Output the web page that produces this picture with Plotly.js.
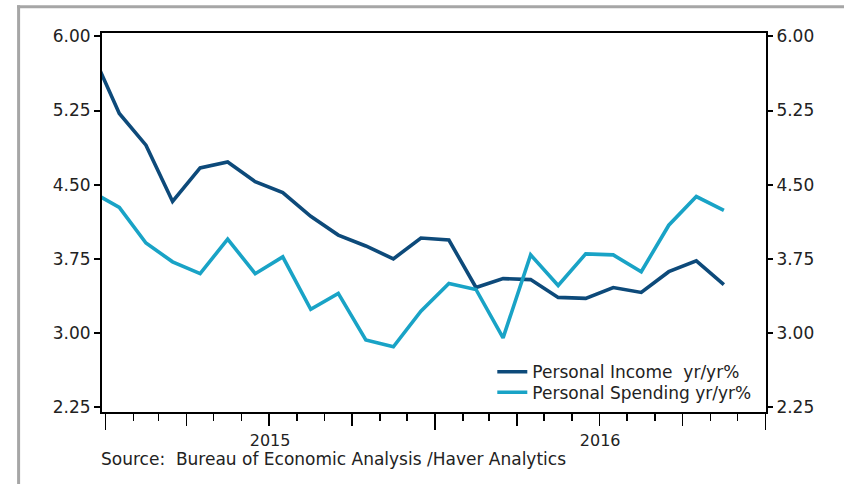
<!DOCTYPE html>
<html>
<head>
<meta charset="utf-8">
<script src="https://cdn.plot.ly/plotly-3.0.1.min.js"></script>
<style>html,body{margin:0;padding:0;background:#fff;}#chart{width:844px;height:484px;}</style>
</head>
<body>
<div id="chart"></div>
<script>
// ---- data (monthly, yr/yr %) ----
const months = ['2014-12','2015-01','2015-02','2015-03','2015-04','2015-05','2015-06','2015-07','2015-08','2015-09','2015-10','2015-11','2015-12',
                '2016-01','2016-02','2016-03','2016-04','2016-05','2016-06','2016-07','2016-08','2016-09','2016-10','2016-11'];
const incomeYoY = [5.85, 5.22, 4.90, 4.33, 4.67, 4.73, 4.53, 4.42, 4.18, 3.99, 3.88, 3.75, 3.96,
                   3.94, 3.46, 3.55, 3.54, 3.36, 3.35, 3.46, 3.41, 3.62, 3.73, 3.49];
const spendingYoY = [4.43, 4.27, 3.91, 3.72, 3.60, 3.95, 3.60, 3.77, 3.24, 3.40, 2.93, 2.86, 3.22,
                     3.50, 3.44, 2.95, 3.79, 3.48, 3.80, 3.79, 3.62, 4.09, 4.38, 4.24];
const incomeName = 'Personal Income\u00a0 yr/yr%';
const spendingName = 'Personal Spending yr/yr%';
const sourceText = 'Source:  Bureau of Economic Analysis /Haver Analytics';
const yTick0 = 2.25, yDtick = 0.75;

// ---- layout geometry ----
const W = 844, H = 484;
const L = 101.7, R = 765.7, T = 33.3, B = 412;
const px2x = p => (p - L) / (R - L);
const px2y = p => (B - p) / (B - T);
const FONT = 'DejaVu Sans, sans-serif';
const TXT = '#222222';
const xRange = ['2014-12-28 08:00', '2017-01-01 16:00'];
const yRange = [2.201, 6.034];

const traces = [
  {x: months, y: incomeYoY, name: incomeName, type: 'scatter', mode: 'lines',
   xperiod: 'M1', xperiodalignment: 'middle',
   line: {color: '#0d4a7a', width: 3.6}, legend: 'legend', hoverinfo: 'skip'},
  {x: months, y: spendingYoY, name: spendingName, type: 'scatter', mode: 'lines',
   xperiod: 'M1', xperiodalignment: 'middle', xaxis: 'x2', yaxis: 'y2',
   line: {color: '#19a3c6', width: 3.6}, legend: 'legend2', hoverinfo: 'skip'}
];

const layout = {
  width: W, height: H,
  margin: {l: L, r: W - R, t: T, b: H - B, pad: 0},
  paper_bgcolor: '#ffffff', plot_bgcolor: '#ffffff',
  font: {family: FONT, size: 17, color: TXT},
  showlegend: true,
  xaxis: {
    type: 'date', range: xRange, fixedrange: true,
    tick0: '2015-01-01', dtick: 'M3', ticks: 'outside', ticklen: 12, tickwidth: 1.5, tickcolor: '#000',
    showticklabels: false, showgrid: false, zeroline: false,
    showline: true, linewidth: 2, linecolor: '#000', mirror: true,
    minor: {tick0: '2015-01-01', dtick: 'M1', ticks: 'outside', ticklen: 7, tickwidth: 1.5, tickcolor: '#000', showgrid: false}
  },
  xaxis2: {
    type: 'date', range: xRange, fixedrange: true, overlaying: 'x', anchor: 'y', side: 'bottom',
    tick0: '2015-01-01', dtick: 'M12', ticks: 'outside', ticklen: 17, tickwidth: 1.5, tickcolor: '#000',
    ticklabelmode: 'period', tickformat: '%Y', ticklabelstandoff: -3,
    tickfont: {family: FONT, size: 16, color: TXT},
    showgrid: false, zeroline: false, showline: false
  },
  yaxis: {
    range: yRange, fixedrange: true, side: 'left',
    tick0: yTick0, dtick: yDtick, tickformat: '.2f',
    ticks: 'outside', ticklen: 6, tickwidth: 2, tickcolor: '#000',
    tickfont: {family: FONT, size: 17, color: TXT},
    showgrid: false, zeroline: false,
    showline: true, linewidth: 2, linecolor: '#000', mirror: true
  },
  yaxis2: {
    range: yRange, fixedrange: true, overlaying: 'y', side: 'right', anchor: 'x',
    tick0: yTick0, dtick: yDtick, tickformat: '.2f',
    ticks: 'outside', ticklen: 6, tickwidth: 2, tickcolor: '#000',
    tickfont: {family: FONT, size: 17, color: TXT},
    showgrid: false, zeroline: false, showline: false
  },
  legend: {x: px2x(492), y: px2y(372.3), xanchor: 'left', yanchor: 'middle',
           bgcolor: 'rgba(0,0,0,0)', borderwidth: 0, font: {family: FONT, size: 17, color: TXT}},
  legend2: {x: px2x(492), y: px2y(392.7), xanchor: 'left', yanchor: 'middle',
            bgcolor: 'rgba(0,0,0,0)', borderwidth: 0, font: {family: FONT, size: 17, color: TXT}},
  annotations: [
    {text: sourceText, xref: 'paper', yref: 'paper', x: px2x(99), y: px2y(459),
     xanchor: 'left', yanchor: 'middle', showarrow: false,
     font: {family: FONT, size: 17, color: TXT}}
  ],
  shapes: [
    {type: 'line', xref: 'paper', yref: 'paper', x0: px2x(18.3), x1: px2x(18.3), y0: px2y(5.6), y1: px2y(H + 2),
     line: {color: '#a6a6a6', width: 3}},
    {type: 'line', xref: 'paper', yref: 'paper', x0: px2x(16.8), x1: px2x(W + 2), y0: px2y(7), y1: px2y(7),
     line: {color: '#a6a6a6', width: 3}}
  ]
};

Plotly.newPlot('chart', traces, layout, {staticPlot: true, displayModeBar: false});
</script>
</body>
</html>
